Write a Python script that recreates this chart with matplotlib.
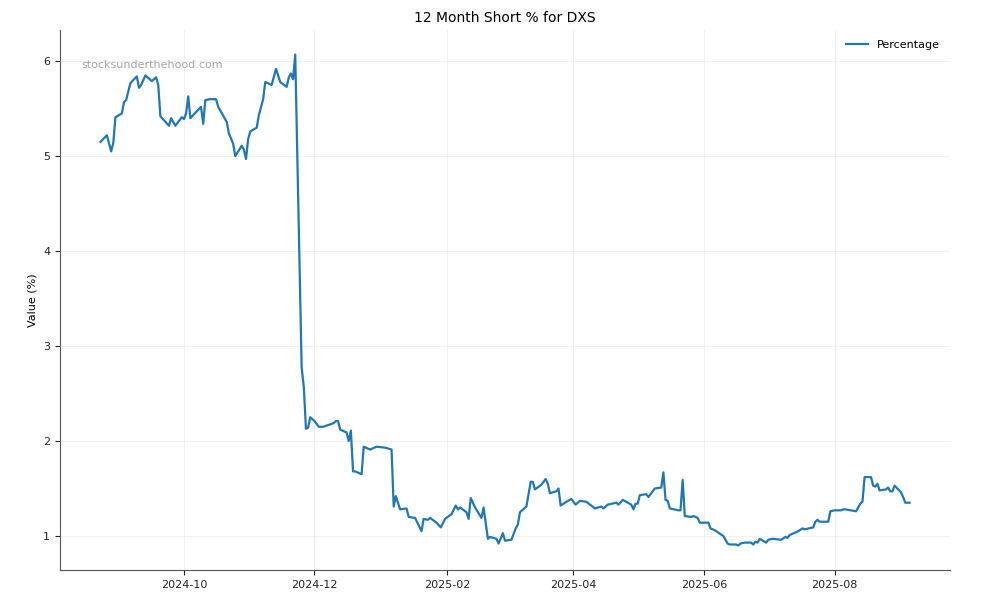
import matplotlib
matplotlib.use("Agg")
import matplotlib.pyplot as plt
import matplotlib.dates as mdates
import pandas as pd

# 12 month short % readings for DXS
dates = [
    "2024-08-23", "2024-08-26", "2024-08-28", "2024-08-29", "2024-08-30",
    "2024-09-02", "2024-09-03", "2024-09-04", "2024-09-06", "2024-09-09",
    "2024-09-10", "2024-09-11", "2024-09-13", "2024-09-16", "2024-09-18",
    "2024-09-19", "2024-09-20", "2024-09-24", "2024-09-25", "2024-09-27",
    "2024-09-30", "2024-10-01", "2024-10-02", "2024-10-03", "2024-10-04",
    "2024-10-09", "2024-10-10", "2024-10-11", "2024-10-13", "2024-10-16",
    "2024-10-17", "2024-10-18", "2024-10-21", "2024-10-22", "2024-10-24",
    "2024-10-25", "2024-10-28", "2024-10-29", "2024-10-30", "2024-10-31",
    "2024-11-01", "2024-11-04", "2024-11-05", "2024-11-07", "2024-11-08",
    "2024-11-11", "2024-11-13", "2024-11-15", "2024-11-18", "2024-11-19",
    "2024-11-20", "2024-11-21", "2024-11-22", "2024-11-25", "2024-11-26",
    "2024-11-27", "2024-11-28", "2024-11-29", "2024-12-01", "2024-12-03",
    "2024-12-05", "2024-12-09", "2024-12-10", "2024-12-11", "2024-12-12",
    "2024-12-13", "2024-12-16", "2024-12-17", "2024-12-18", "2024-12-19",
    "2024-12-20", "2024-12-23", "2024-12-24", "2024-12-27", "2024-12-30",
    "2025-01-03", "2025-01-06", "2025-01-07", "2025-01-08", "2025-01-10",
    "2025-01-13", "2025-01-14", "2025-01-17", "2025-01-20", "2025-01-21",
    "2025-01-23", "2025-01-24", "2025-01-27", "2025-01-29", "2025-01-31",
    "2025-02-03", "2025-02-05", "2025-02-06", "2025-02-07", "2025-02-10",
    "2025-02-11", "2025-02-12", "2025-02-14", "2025-02-17", "2025-02-18",
    "2025-02-20", "2025-02-21", "2025-02-24", "2025-02-25", "2025-02-27",
    "2025-02-28", "2025-03-03", "2025-03-05", "2025-03-06", "2025-03-07",
    "2025-03-10", "2025-03-12", "2025-03-13", "2025-03-14", "2025-03-17",
    "2025-03-19", "2025-03-20", "2025-03-21", "2025-03-24", "2025-03-25",
    "2025-03-26", "2025-03-28", "2025-03-31", "2025-04-02", "2025-04-04",
    "2025-04-07", "2025-04-11", "2025-04-14", "2025-04-15", "2025-04-17",
    "2025-04-21", "2025-04-22", "2025-04-24", "2025-04-28", "2025-04-29",
    "2025-04-30", "2025-05-01", "2025-05-02", "2025-05-05", "2025-05-06",
    "2025-05-07", "2025-05-09", "2025-05-12", "2025-05-13", "2025-05-14",
    "2025-05-15", "2025-05-16", "2025-05-20", "2025-05-21", "2025-05-22",
    "2025-05-23", "2025-05-26", "2025-05-27", "2025-05-29", "2025-05-30",
    "2025-06-03", "2025-06-04", "2025-06-06", "2025-06-10", "2025-06-12",
    "2025-06-13", "2025-06-16", "2025-06-17", "2025-06-18", "2025-06-20",
    "2025-06-23", "2025-06-24", "2025-06-25", "2025-06-26", "2025-06-27",
    "2025-06-30", "2025-07-01", "2025-07-03", "2025-07-07", "2025-07-09",
    "2025-07-10", "2025-07-11", "2025-07-15", "2025-07-17", "2025-07-18",
    "2025-07-22", "2025-07-23", "2025-07-24", "2025-07-25", "2025-07-29",
    "2025-07-30", "2025-08-01", "2025-08-04", "2025-08-05", "2025-08-06",
    "2025-08-11", "2025-08-13", "2025-08-14", "2025-08-15", "2025-08-18",
    "2025-08-19", "2025-08-20", "2025-08-21", "2025-08-22", "2025-08-25",
    "2025-08-26", "2025-08-27", "2025-08-28", "2025-08-29", "2025-09-01",
    "2025-09-02", "2025-09-03", "2025-09-05",
]

short_pct = [
    5.15, 5.22, 5.05, 5.14, 5.41,
    5.45, 5.57, 5.59, 5.77, 5.84,
    5.72, 5.75, 5.85, 5.79, 5.83,
    5.75, 5.42, 5.32, 5.40, 5.32,
    5.41, 5.39, 5.45, 5.63, 5.40,
    5.52, 5.34, 5.59, 5.60, 5.60,
    5.52, 5.48, 5.36, 5.24, 5.13,
    5.00, 5.11, 5.07, 4.97, 5.18,
    5.26, 5.30, 5.43, 5.60, 5.78,
    5.75, 5.92, 5.78, 5.73, 5.83,
    5.87, 5.81, 6.07, 2.77, 2.57,
    2.13, 2.14, 2.25, 2.21, 2.15,
    2.15, 2.18, 2.19, 2.21, 2.21,
    2.12, 2.09, 2.00, 2.11, 1.68,
    1.68, 1.65, 1.94, 1.91, 1.94,
    1.93, 1.91, 1.31, 1.42, 1.28,
    1.29, 1.20, 1.19, 1.05, 1.18,
    1.17, 1.19, 1.14, 1.09, 1.18,
    1.23, 1.32, 1.28, 1.30, 1.25,
    1.18, 1.40, 1.30, 1.19, 1.30,
    0.97, 0.99, 0.97, 0.92, 1.03,
    0.95, 0.96, 1.08, 1.12, 1.25,
    1.31, 1.57, 1.57, 1.49, 1.54,
    1.60, 1.55, 1.45, 1.47, 1.50,
    1.32, 1.35, 1.39, 1.33, 1.37,
    1.36, 1.29, 1.31, 1.29, 1.33,
    1.35, 1.33, 1.38, 1.33, 1.28,
    1.34, 1.34, 1.43, 1.44, 1.41,
    1.44, 1.50, 1.51, 1.67, 1.38,
    1.37, 1.29, 1.27, 1.27, 1.59,
    1.21, 1.20, 1.21, 1.19, 1.14,
    1.14, 1.08, 1.06, 1.00, 0.92,
    0.91, 0.91, 0.90, 0.92, 0.93,
    0.93, 0.91, 0.94, 0.93, 0.97,
    0.93, 0.96, 0.97, 0.96, 0.99,
    0.98, 1.01, 1.05, 1.08, 1.07,
    1.09, 1.15, 1.17, 1.15, 1.15,
    1.26, 1.27, 1.27, 1.28, 1.28,
    1.26, 1.34, 1.36, 1.62, 1.62,
    1.53, 1.52, 1.55, 1.48, 1.49,
    1.51, 1.47, 1.47, 1.53, 1.46,
    1.41, 1.35, 1.35,
]

df = pd.DataFrame({"date": pd.to_datetime(dates), "pct": short_pct})

fig, ax = plt.subplots(figsize=(10, 6), dpi=100)
fig.subplots_adjust(left=0.06, right=0.95, top=0.95, bottom=0.05)

ax.plot(df["date"], df["pct"], color="#1f77b4", linewidth=1.6, label="Percentage")

ax.set_title("12 Month Short % for DXS", fontsize=10)
ax.set_ylabel("Value (%)", fontsize=8)
ax.tick_params(labelsize=8, colors="#222222")

ax.xaxis.set_major_locator(mdates.MonthLocator(bymonth=[2, 4, 6, 8, 10, 12]))
ax.xaxis.set_major_formatter(mdates.DateFormatter("%Y-%m"))

ax.grid(True, color="#eeeeee", linewidth=0.7, alpha=0.8)
ax.spines["top"].set_visible(False)
ax.spines["right"].set_visible(False)
ax.spines["left"].set_color("#555555")
ax.spines["bottom"].set_color("#555555")

ax.text(0.024, 0.935, "stocksunderthehood.com", transform=ax.transAxes,
        fontsize=8, color="#999999", alpha=0.9, va="center")

ax.legend(loc="upper right", fontsize=8, frameon=False)

fig.savefig("out.png")
